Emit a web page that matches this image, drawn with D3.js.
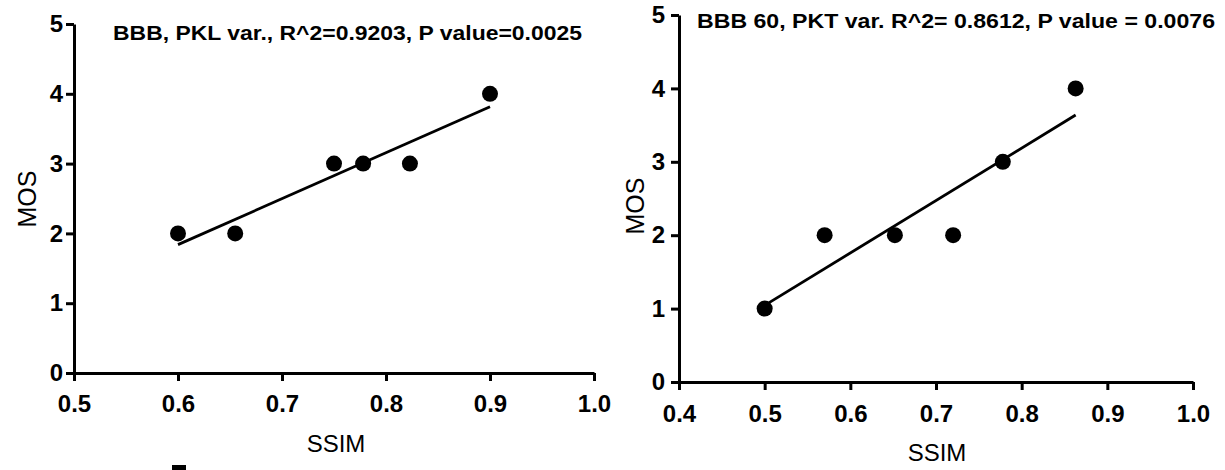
<!DOCTYPE html>
<html>
<head>
<meta charset="utf-8">
<script src="https://cdn.jsdelivr.net/npm/d3@7"></script>
<style>
  html, body { margin: 0; padding: 0; background: #fff; }
  svg { display: block; }
  text { font-family: "Liberation Sans", Arial, sans-serif; fill: #000; }
</style>
</head>
<body>
<svg id="fig" width="1225" height="470"></svg>
<script>
// Panel A: BBB, PKL variation
const ssimA = [0.600, 0.655, 0.750, 0.778, 0.823, 0.900];
const mosA  = [2, 2, 3, 3, 3, 4];
const titleA = "BBB, PKL var., R^2=0.9203, P value=0.0025";
const xTicksA = [0.5, 0.6, 0.7, 0.8, 0.9, 1.0];

// Panel B: BBB 60, PKT variation
const ssimB = [0.500, 0.570, 0.652, 0.720, 0.778, 0.863];
const mosB  = [1, 2, 2, 2, 3, 4];
const titleB = "BBB 60, PKT var. R^2= 0.8612, P value = 0.0076";
const xTicksB = [0.4, 0.5, 0.6, 0.7, 0.8, 0.9, 1.0];

const yTicks = [0, 1, 2, 3, 4, 5];
const xLabel = "SSIM";
const yLabel = "MOS";

// ordinary least squares fit y = a + b x
function linearFit(xs, ys) {
  const mx = d3.mean(xs), my = d3.mean(ys);
  let sxy = 0, sxx = 0;
  xs.forEach((x, i) => { sxy += (x - mx) * (ys[i] - my); sxx += (x - mx) * (x - mx); });
  const b = sxy / sxx;
  return { a: my - b * mx, b };
}

const svg = d3.select("#fig");

function panel(cfg) {
  const g = svg.append("g");
  const x = d3.scaleLinear().domain(cfg.xDomain).range([cfg.left, cfg.right]);
  const y = d3.scaleLinear().domain([0, 5]).range([cfg.bottom, cfg.top]);

  const xAxis = d3.axisBottom(x).tickValues(cfg.xTicks).tickFormat(d3.format(".1f"))
    .tickSize(8).tickSizeOuter(0).tickPadding(cfg.xPad);
  const yAxis = d3.axisLeft(y).tickValues(yTicks).tickFormat(d3.format("d"))
    .tickSize(8).tickSizeOuter(0).tickPadding(cfg.yPad);

  const gx = g.append("g").attr("transform", `translate(0,${cfg.bottom})`).call(xAxis);
  const gy = g.append("g").attr("transform", `translate(${cfg.left},0)`).call(yAxis);
  [gx, gy].forEach(a => {
    a.select(".domain").attr("stroke", "#000").attr("stroke-width", 3);
    a.selectAll(".tick line").attr("stroke", "#000").attr("stroke-width", 3);
    a.selectAll(".tick text")
      .style("font-family", "'Liberation Sans', Arial, sans-serif")
      .style("font-size", "24px").style("font-weight", "bold").attr("fill", "#000");
  });

  // regression line over the observed SSIM range
  const fit = linearFit(cfg.xs, cfg.ys);
  const x0 = d3.min(cfg.xs), x1 = d3.max(cfg.xs);
  g.append("line")
    .attr("x1", x(x0)).attr("y1", y(fit.a + fit.b * x0))
    .attr("x2", x(x1)).attr("y2", y(fit.a + fit.b * x1))
    .attr("stroke", "#000").attr("stroke-width", 2.8);

  g.selectAll("circle.pt").data(cfg.xs.map((v, i) => [v, cfg.ys[i]]))
    .enter().append("circle").attr("class", "pt")
    .attr("cx", d => x(d[0])).attr("cy", d => y(d[1]))
    .attr("r", 8).attr("fill", "#000");

  g.append("text")
    .attr("x", cfg.titleX).attr("y", cfg.titleY)
    .attr("textLength", cfg.titleW).attr("lengthAdjust", "spacingAndGlyphs")
    .style("font-size", "20px").style("font-weight", "bold")
    .text(cfg.title);

  g.append("text")
    .attr("x", cfg.xLabX).attr("y", cfg.xLabY)
    .attr("text-anchor", "middle")
    .style("font-size", "24px")
    .text(xLabel);

  g.append("text")
    .attr("transform", `translate(${cfg.yLabX},${cfg.yLabY}) rotate(-90)`)
    .attr("text-anchor", "middle")
    .style("font-size", "25px")
    .text(yLabel);
}

panel({
  xs: ssimA, ys: mosA, title: titleA, xTicks: xTicksA, xDomain: [0.5, 1.0],
  left: 74, right: 594, top: 24, bottom: 373, xPad: 14, yPad: 3,
  titleX: 113, titleY: 40, titleW: 469,
  xLabX: 336, xLabY: 452, yLabX: 36, yLabY: 199
});

panel({
  xs: ssimB, ys: mosB, title: titleB, xTicks: xTicksB, xDomain: [0.4, 1.0],
  left: 679, right: 1193, top: 15, bottom: 382, xPad: 15, yPad: 6,
  titleX: 697, titleY: 28, titleW: 518,
  xLabX: 937, xLabY: 461, yLabX: 644, yLabY: 206
});

// small fragment of neighbouring artwork at the lower edge
svg.append("rect").attr("x", 172).attr("y", 465).attr("width", 14).attr("height", 5).attr("fill", "#000");
</script>
</body>
</html>
